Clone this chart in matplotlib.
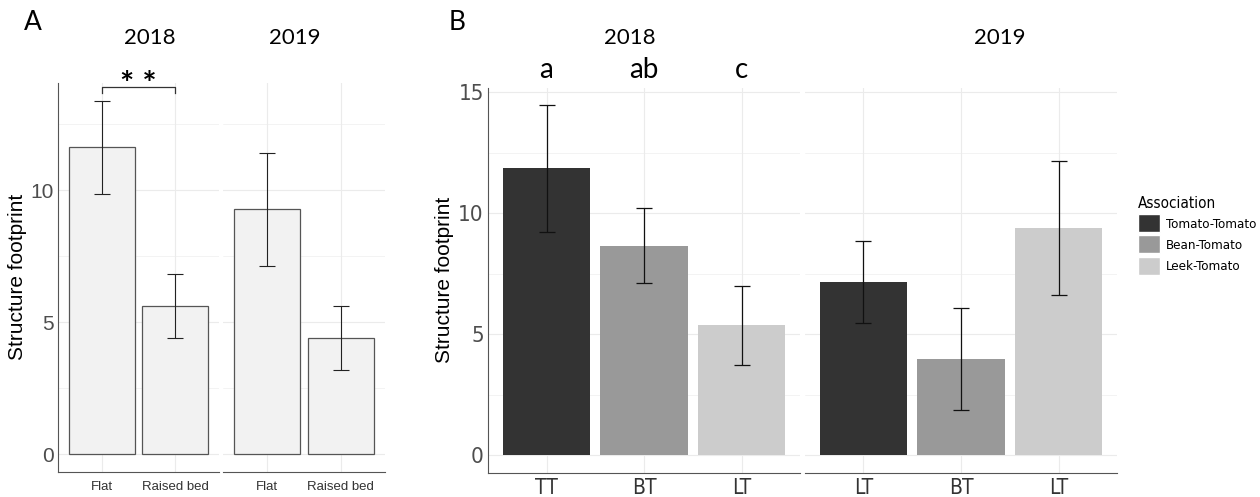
import matplotlib
matplotlib.use('Agg')
import matplotlib.pyplot as plt
import matplotlib.patches as mpatches
import numpy as np

# Panel A data
a_years = ['2018', '2019']
a_systems = ['Flat', 'Raised bed']
a_mean = {'2018': [11.64, 5.62], '2019': [9.28, 4.38]}
a_low = {'2018': [9.87, 4.41], '2019': [7.13, 3.19]}
a_high = {'2018': [13.38, 6.82], '2019': [11.39, 5.62]}

# Panel B data
b_years = ['2018', '2019']
b_labels = {'2018': ['TT', 'BT', 'LT'], '2019': ['LT', 'BT', 'LT']}
b_mean = {'2018': [11.85, 8.65, 5.37], '2019': [7.16, 3.97, 9.39]}
b_low = {'2018': [9.21, 7.11, 3.71], '2019': [5.47, 1.85, 6.61]}
b_high = {'2018': [14.46, 10.22, 6.98], '2019': [8.84, 6.09, 12.15]}
b_letters = ['a', 'ab', 'c']
associations = ['Tomato-Tomato', 'Bean-Tomato', 'Leek-Tomato']
assoc_colors = ['#333333', '#999999', '#cccccc']

W, H = 1260, 497
fig = plt.figure(figsize=(W / 100, H / 100), dpi=100)

TICK_COL = '#4d4d4d'
GRID_COL = '#ebebeb'
sans = ['Liberation Sans', 'DejaVu Sans']
title_font = ['Lato', 'Open Sans', 'DejaVu Sans']


def narrow_text(t, size):
    t.set_family(['DejaVu Sans'])
    t.set_stretch('condensed')
    t.set_fontsize(size)


def px_axes(x0, x1, y0, y1):
    # pixel box measured from top-left -> figure axes
    return fig.add_axes([x0 / W, 1 - y1 / H, (x1 - x0) / W, (y1 - y0) / H])


def style_facet(ax, n, ylim, first):
    ax.set_xticks(range(n))
    ax.set_yticks([0, 5, 10, 15])
    ax.set_yticks([2.5, 7.5, 12.5], minor=True)
    ax.set_xlim(-0.6, n - 1 + 0.6)
    ax.set_ylim(*ylim)
    ax.grid(True, which='major', color=GRID_COL, lw=0.8)
    ax.grid(True, which='minor', axis='y', color=GRID_COL, lw=0.4)
    ax.set_axisbelow(True)
    for s in ['top', 'right']:
        ax.spines[s].set_visible(False)
    ax.spines['bottom'].set_color('#555555')
    ax.spines['left'].set_color('#555555')
    ax.spines['left'].set_visible(first)
    ax.tick_params(which='both', length=0, colors=TICK_COL)
    ax.tick_params(axis='y', pad=3)
    ax.tick_params(axis='x', colors='#333333')
    if not first:
        ax.set_yticklabels([])


# ---------------- Panel A ----------------
a_boxes = [(58.3, 219), (223, 385)]
a_ylim = (-0.67, 14.05)
ax_a1 = None
for i, yr in enumerate(a_years):
    ax = px_axes(a_boxes[i][0], a_boxes[i][1], 83.3, 471.7)
    x = np.arange(len(a_systems))
    ax.bar(x, a_mean[yr], width=0.9, color='#f2f2f2', edgecolor='#555555', lw=0.9)
    m = np.array(a_mean[yr])
    err = [m - np.array(a_low[yr]), np.array(a_high[yr]) - m]
    ax.errorbar(x, m, yerr=err, fmt='none', ecolor='#222222', elinewidth=0.8,
                capsize=5.8, capthick=0.8)
    style_facet(ax, len(a_systems), a_ylim, i == 0)
    ax.set_xticklabels(a_systems, fontsize=9.5, family=sans)
    ax.tick_params(axis='x', pad=7)
    for t in ax.get_yticklabels():
        t.set_family(sans)
        t.set_fontsize(15)
    if i == 0:
        ax_a1 = ax

fig.text(150 / W, 1 - 38 / H, '2018', ha='center', va='center', fontsize=16, family=title_font)
fig.text(295 / W, 1 - 38 / H, '2019', ha='center', va='center', fontsize=16, family=title_font)
fig.text(33 / W, 1 - 22 / H, 'A', ha='center', va='center', fontsize=19, family=title_font)
fig.text(18 / W, 1 - 277 / H, 'Structure footprint', rotation=90, ha='center', va='center',
         fontsize=15, family=sans)

# significance bracket over 2018
ax_a1.plot([0, 0, 1, 1], [13.67, 13.9, 13.9, 13.67], color='#333333', lw=0.9, clip_on=False)
ax_a1.text(0.5, 13.95, '* *', ha='center', va='center', fontsize=24, fontweight='bold',
           family=title_font)

# ---------------- Panel B ----------------
b_boxes = [(488, 800), (805, 1117)]
b_ylim = (-0.72, 15.18)
for i, yr in enumerate(b_years):
    ax = px_axes(b_boxes[i][0], b_boxes[i][1], 87.6, 472.7)
    x = np.arange(len(b_labels[yr]))
    ax.bar(x, b_mean[yr], width=0.9, color=assoc_colors)
    m = np.array(b_mean[yr])
    err = [m - np.array(b_low[yr]), np.array(b_high[yr]) - m]
    ax.errorbar(x, m, yerr=err, fmt='none', ecolor='#111111', elinewidth=0.9,
                capsize=5.5, capthick=0.9)
    style_facet(ax, len(b_labels[yr]), b_ylim, i == 0)
    ax.set_xticklabels(b_labels[yr])
    ax.tick_params(axis='x', pad=4)
    for t in ax.get_xticklabels():
        narrow_text(t, 15)
    for t in ax.get_yticklabels():
        narrow_text(t, 16)
    if i == 0:
        for j, letter in enumerate(b_letters):
            ax.text(x[j], 15.9, letter, ha='center', va='center', fontsize=20,
                    family=title_font, clip_on=False)

fig.text(630 / W, 1 - 38 / H, '2018', ha='center', va='center', fontsize=16, family=title_font)
fig.text(1000 / W, 1 - 38 / H, '2019', ha='center', va='center', fontsize=16, family=title_font)
fig.text(457 / W, 1 - 22 / H, 'B', ha='center', va='center', fontsize=19, family=title_font)
fig.text(445 / W, 1 - 280 / H, 'Structure footprint', rotation=90, ha='center', va='center',
         fontsize=15, family=sans)

handles = [mpatches.Patch(facecolor=c, edgecolor='white', label=l)
           for c, l in zip(assoc_colors, associations)]
leg = fig.legend(handles=handles, title='Association', loc='upper left',
                 bbox_to_anchor=(1132 / W, 1 - 190 / H), frameon=False,
                 handlelength=1.6, handleheight=1.6,
                 handletextpad=0.45, labelspacing=0.25, borderaxespad=0)
for t in leg.get_texts():
    narrow_text(t, 9.5)
narrow_text(leg.get_title(), 11)
leg._legend_box.align = 'left'

fig.savefig('out.png', dpi=100, facecolor='white')
